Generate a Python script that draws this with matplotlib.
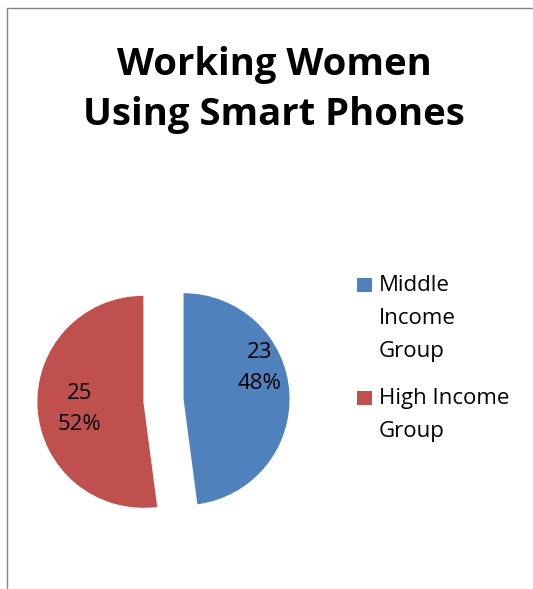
# Pie chart - working women using smart phones by income group

# Importing the libraries
import matplotlib
matplotlib.use('Agg')
import matplotlib.pyplot as plt

# Data
groups = ['Middle\nIncome\nGroup', 'High Income\nGroup']
counts = [23, 25]
colors = ['#4F81BD', '#C0504D']

plt.rcParams['font.family'] = ['Open Sans', 'DejaVu Sans']

W, H = 533, 589
fig = plt.figure(figsize=(W / 100, H / 100), dpi=100)

# chart area border (runs off the right and bottom edges)
fig.patches.append(plt.Rectangle((7 / W, -0.1), 1.2, 1 - 8 / H + 0.1,
                                 transform=fig.transFigure, fill=False,
                                 edgecolor='#868686', linewidth=1.0))

# Title
fig.text(0.514, 1 - 90 / H, 'Working Women\nUsing Smart Phones',
         ha='center', va='center', fontsize=27.5, fontweight='bold',
         linespacing=1.42)

# Pie
ax = fig.add_axes([0.0283, 0.0681, 0.5568, 0.5039])
total = sum(counts)

def show_value(p):
    return '{:d}\n{:.0f}%'.format(int(round(p * total / 100.0)), p)

wedges, texts, autotexts = ax.pie(counts, colors=colors, startangle=90,
                                  counterclock=False, explode=[0.19, 0.19],
                                  autopct=show_value, radius=1,
                                  wedgeprops=dict(linewidth=0),
                                  textprops=dict(fontsize=16, linespacing=1.6))
ax.set_xlim(-1.4, 1.4)
ax.set_ylim(-1.4, 1.4)
ax.set_aspect('equal')
ax.axis('off')

# data label spots, in pie units
label_pos = [(0.906, 0.305), (-0.792, -0.08)]
for t, pos in zip(autotexts, label_pos):
    t.set_position(pos)

# Legend
legend_top = [275, 388]
for name, col, top in zip(groups, colors, legend_top):
    fig.patches.append(plt.Rectangle((357 / W, 1 - (top + 17) / H), 14.5 / W, 14.5 / H,
                                     transform=fig.transFigure, facecolor=col,
                                     edgecolor='none'))
    fig.text(379 / W, 1 - top / H, name, ha='left', va='top',
             fontsize=16, linespacing=1.75)

plt.savefig('out.png', dpi=100)
